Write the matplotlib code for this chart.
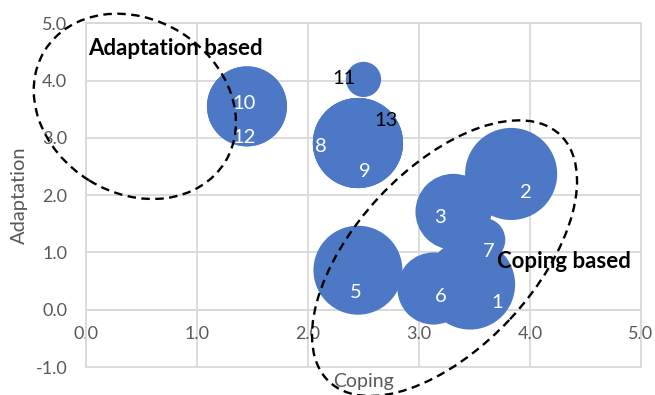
import numpy as np
import matplotlib
matplotlib.use("Agg")
import matplotlib.pyplot as plt
from matplotlib.patches import Ellipse
from matplotlib.transforms import ScaledTranslation

plt.rcParams['font.family'] = ['Lato', 'DejaVu Sans']
plt.rcParams['axes.unicode_minus'] = False

# Bubble data: strategy id, coping score, adaptation score, bubble size
ids = ['1', '2', '3', '5', '6', '7', '8', '9', '10', '11', '12', '13']
coping = [3.46, 3.83, 3.31, 2.45, 3.13, 3.58, 2.45, 2.45, 1.45, 2.50, 1.45, 2.45]
adaptation = [0.44, 2.37, 1.71, 0.69, 0.37, 1.22, 2.91, 2.91, 3.55, 4.02, 3.55, 2.91]
bubble_size = [20.3, 21.2, 14.4, 19.8, 13.0, 4.8, 20.3, 20.3, 16.0, 3.1, 16.0, 20.3]

x_ticks = [0, 1, 2, 3, 4, 5]
y_ticks = [-1, 0, 1, 2, 3, 4, 5]

# Group outlines: (name, center x, center y, width px, height px, angle deg)
groups = [
    ("Adaptation based", 0.44, 3.55, 212, 174, -31.7),
    ("Coping based", 3.23, 0.90, 338, 179, 47.0),
]

# Label placement (pixel offsets from the bubble centre) and colours
label_offset = {
    '1': (27, -23), '2': (15, -24), '3': (-13, -11), '5': (-2, -28),
    '6': (7, -13), '7': (5, -17), '8': (-37, -9), '9': (7, -34),
    '10': (-3, -3), '11': (-20, -5), '12': (-3, -37), '13': (28, 17),
}
dark_labels = {'11', '13'}

W, H, DPI = 655, 395, 100
fig = plt.figure(figsize=(W / DPI, H / DPI), dpi=DPI)
ax = fig.add_axes([86 / W, 1 - 367 / H, 555 / W, (367 - 23.3) / H])

grid_c = '#d9d9d9'
text_c = '#595959'
blue = '#4D78C5'

ax.set_xlim(0, 5)
ax.set_ylim(-1, 5)
ax.set_xticks(x_ticks)
ax.set_yticks(y_ticks)
ax.set_xticklabels([f"{v:.1f}" for v in x_ticks])
ax.set_yticklabels([f"{v:.1f}" for v in y_ticks])
ax.grid(True, color=grid_c, lw=1.3)
ax.set_axisbelow(True)
for ln in ax.get_xgridlines() + ax.get_ygridlines():
    ln.set_clip_on(False)
for s in ax.spines.values():
    s.set_color(grid_c)
    s.set_linewidth(1.3)
ax.spines['bottom'].set_position(('data', 0))
ax.tick_params(axis='both', length=0, labelsize=13, labelcolor=text_c)
ax.tick_params(axis='x', pad=11.5)
ax.tick_params(axis='y', pad=13.5)

# bubbles: radius in pixels = 10 * sqrt(size)
s_vals = [(2 * 10 * np.sqrt(v) * 72 / DPI) ** 2 for v in bubble_size]
ax.scatter(coping, adaptation, s=s_vals, color=blue, edgecolors='none',
           zorder=3, clip_on=False)

for i, lab in enumerate(ids):
    dx, dy = label_offset[lab]
    ax.annotate(lab, (coping[i], adaptation[i]), xytext=(dx, dy),
                textcoords='offset pixels', ha='center', va='baseline',
                fontsize=14.5, color='black' if lab in dark_labels else 'white',
                zorder=5)

# dashed group outlines
for name, cx, cy, w, h, ang in groups:
    tr = fig.dpi_scale_trans + ScaledTranslation(cx, cy, ax.transData)
    e = Ellipse((0, 0), w / DPI, h / DPI, angle=ang, transform=tr,
                fill=False, ec='black', lw=1.7, ls=(0, (3.6, 2.3)),
                clip_on=False, zorder=6)
    ax.add_patch(e)

ax.text(0.02, 4.44, "Adaptation based", fontsize=16, fontweight='bold',
        ha='left', va='baseline', zorder=7)
ax.text(3.70, 0.73, "Coping based", fontsize=16, fontweight='bold',
        ha='left', va='baseline', zorder=7)

ax.set_xlabel("Coping", fontsize=14, color=text_c)
ax.xaxis.set_label_coords(0.5, -0.018)
ax.set_ylabel("Adaptation", fontsize=14.5, color=text_c, va='center')
ax.yaxis.set_label_coords(-0.12, 0.5)

fig.savefig("out.png", dpi=DPI)
